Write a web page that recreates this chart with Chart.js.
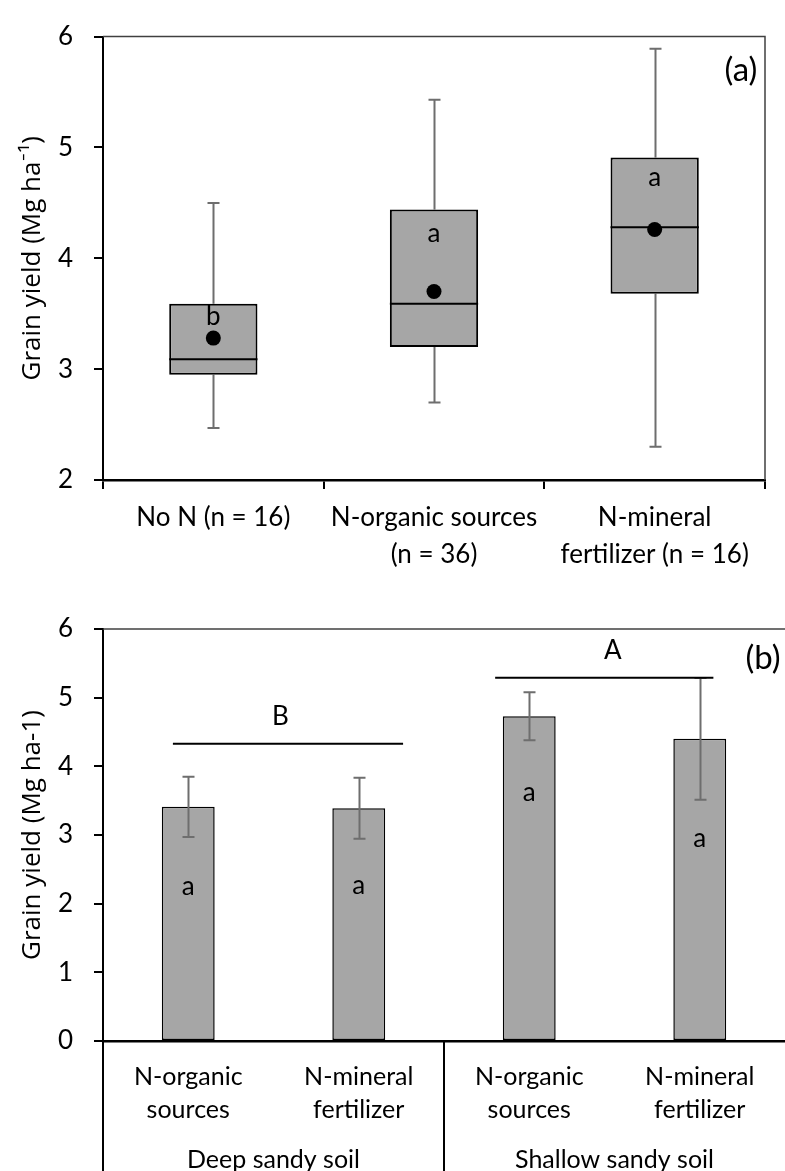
<!DOCTYPE html>
<html>
<head>
<meta charset="utf-8">
<script src="https://cdn.jsdelivr.net/npm/chart.js@4/dist/chart.umd.min.js"></script>
<style>
  html, body { margin: 0; padding: 0; background: #fff; }
  #wrapA { position: absolute; left: 0; top: 0; width: 785px; height: 590px; }
  #wrapB { position: absolute; left: 0; top: 590px; width: 785px; height: 581px; }
</style>
</head>
<body>
<div id="wrapA"><canvas id="boxChart"></canvas></div>
<div id="wrapB"><canvas id="barChart"></canvas></div>
<script>
// ---- Panel (a): grain yield distribution by N source ----
const treatments = [['No N (n = 16)'], ['N-organic sources', '(n = 36)'], ['N-mineral', 'fertilizer (n = 16)']];
const yieldMin = [2.47, 2.70, 2.30];
const yieldQ1 = [2.95, 3.20, 3.68];
const yieldMedian = [3.09, 3.59, 4.28];
const yieldQ3 = [3.59, 4.44, 4.91];
const yieldMax = [4.50, 5.43, 5.89];
const yieldMean = [3.28, 3.70, 4.26];
const boxLetters = ['b', 'a', 'a'];
const boxLetterY = [3.47, 4.22, 4.73];
const ticksA = [2, 3, 4, 5, 6];

// ---- Panel (b): mean grain yield by soil type and N source ----
const sources = [['N-organic', 'sources'], ['N-mineral', 'fertilizer'], ['N-organic', 'sources'], ['N-mineral', 'fertilizer']];
const soils = ['Deep sandy soil', 'Shallow sandy soil'];
const meanYield = [3.41, 3.39, 4.73, 4.40];
const yieldErr = [0.44, 0.445, 0.35, 0.885];
const barLetters = ['a', 'a', 'a', 'a'];
const barLetterY = [2.25, 2.27, 3.62, 2.95];
const soilLetters = ['B', 'A'];
const soilLetterX = [0.54, 2.49];
const soilLineLevel = [4.33, 5.29];
const soilLineFrom = [-0.09, 1.80];
const soilLineTo = [1.26, 3.08];
const ticksB = [0, 1, 2, 3, 4, 5, 6];

const FONT = 'Lato, "Open Sans", sans-serif';
const TITLE_FONT = '"Open Sans", Lato, sans-serif';
const BOX_FILL = '#a6a6a6';
const WHISKER = '#6e6e6e';
Chart.defaults.color = '#000';
Chart.defaults.animation = false;

// whiskers, medians and group letters for the box plot
const boxPlotExtras = {
  id: 'boxPlotExtras',
  beforeDatasetsDraw(chart) {
    const { ctx, scales: { y } } = chart;
    const meta = chart.getDatasetMeta(1);
    ctx.save();
    ctx.strokeStyle = WHISKER;
    ctx.lineWidth = 2;
    meta.data.forEach((bar, i) => {
      const cx = Math.round(bar.x) + 0.5;
      [[yieldQ3[i], yieldMax[i]], [yieldQ1[i], yieldMin[i]]].forEach(([from, to]) => {
        const yf = y.getPixelForValue(from), yt = y.getPixelForValue(to);
        ctx.beginPath();
        ctx.moveTo(cx, yf); ctx.lineTo(cx, yt);
        ctx.moveTo(cx - 6, yt); ctx.lineTo(cx + 6, yt);
        ctx.stroke();
      });
    });
    ctx.restore();
  },
  afterDatasetDraw(chart, args) {
    if (args.meta.type !== 'bar') return;
    const { ctx, scales: { y } } = chart;
    ctx.save();
    ctx.strokeStyle = '#000';
    ctx.lineWidth = 2;
    args.meta.data.forEach((bar, i) => {
      const py = y.getPixelForValue(yieldMedian[i]);
      ctx.beginPath();
      ctx.moveTo(bar.x - bar.width / 2, py);
      ctx.lineTo(bar.x + bar.width / 2, py);
      ctx.stroke();
    });
    ctx.restore();
  },
  afterDraw(chart) {
    const { ctx, chartArea: a, scales: { x, y } } = chart;
    ctx.save();
    // plot frame (top and right)
    ctx.strokeStyle = '#404040';
    ctx.lineWidth = 1.5;
    ctx.beginPath();
    ctx.moveTo(a.left, a.top); ctx.lineTo(a.right, a.top); ctx.lineTo(a.right, a.bottom);
    ctx.stroke();
    ctx.fillStyle = '#000';
    ctx.textAlign = 'center';
    ctx.textBaseline = 'middle';
    ctx.font = '26px ' + FONT;
    boxLetters.forEach((t, i) => ctx.fillText(t, x.getPixelForValue(i), y.getPixelForValue(boxLetterY[i])));
    ctx.font = '33px ' + FONT;
    ctx.fillText('(a)', a.right - 24, a.top + 34);
    ctx.restore();
  }
};

new Chart(document.getElementById('boxChart'), {
  data: {
    labels: treatments,
    datasets: [
      { type: 'line', label: 'Mean', data: yieldMean, showLine: false, pointRadius: 7.5, pointHoverRadius: 7.5,
        pointBackgroundColor: '#000', pointBorderWidth: 0, order: 0 },
      { type: 'bar', label: 'Interquartile range', data: yieldQ1.map((q, i) => [q, yieldQ3[i]]),
        backgroundColor: BOX_FILL, borderColor: '#000', borderWidth: 2, borderSkipped: false,
        barPercentage: 0.4, categoryPercentage: 1, order: 1 }
    ]
  },
  options: {
    responsive: true,
    maintainAspectRatio: false,
    layout: { padding: { top: 25, right: 20, left: 0, bottom: 0 } },
    plugins: { legend: { display: false }, tooltip: { enabled: false } },
    scales: {
      x: {
        offset: true,
        grid: { offset: true, drawOnChartArea: false, tickLength: 9, color: '#000', lineWidth: 2 },
        border: { color: '#000', width: 2.5 },
        ticks: { font: { family: FONT, size: 26, lineHeight: 37 / 26 }, padding: 10.5, maxRotation: 0, autoSkip: false, color: '#000' },
        afterFit(s) { s.height = 110; }
      },
      y: {
        min: ticksA[0], max: ticksA[ticksA.length - 1],
        afterBuildTicks(s) { s.ticks = ticksA.map(v => ({ value: v })); },
        grid: { drawOnChartArea: false, tickLength: 9, color: '#000', lineWidth: 2 },
        border: { color: '#000', width: 2 },
        ticks: { font: { family: FONT, size: 26 }, padding: 21, color: '#000' },
        title: { display: true, text: 'Grain yield (Mg ha⁻¹)', font: { family: TITLE_FONT, size: 26 }, padding: { top: 16.5, bottom: 0 }, color: '#000' },
        afterFit(s) { s.width = 103; }
      }
    }
  },
  plugins: [boxPlotExtras]
});

// error bars, letters, soil brackets and group separators for the bar chart
const barExtras = {
  id: 'barExtras',
  afterDatasetsDraw(chart) {
    const { ctx, chartArea: a, scales: { x, y } } = chart;
    const meta = chart.getDatasetMeta(0);
    ctx.save();
    ctx.strokeStyle = WHISKER;
    ctx.lineWidth = 2;
    meta.data.forEach((bar, i) => {
      const cx = Math.round(bar.x) + 0.5;
      const yt = y.getPixelForValue(meanYield[i] + yieldErr[i]);
      const yb = y.getPixelForValue(meanYield[i] - yieldErr[i]);
      ctx.beginPath();
      ctx.moveTo(cx, yt); ctx.lineTo(cx, yb);
      ctx.moveTo(cx - 6, yt); ctx.lineTo(cx + 6, yt);
      ctx.moveTo(cx - 6, yb); ctx.lineTo(cx + 6, yb);
      ctx.stroke();
    });
    ctx.fillStyle = '#000';
    ctx.textAlign = 'center';
    ctx.textBaseline = 'middle';
    ctx.font = '26px ' + FONT;
    barLetters.forEach((t, i) => ctx.fillText(t, x.getPixelForValue(i), y.getPixelForValue(barLetterY[i])));
    ctx.strokeStyle = '#000';
    ctx.lineWidth = 2;
    soilLetters.forEach((t, i) => {
      const py = y.getPixelForValue(soilLineLevel[i]);
      ctx.beginPath();
      ctx.moveTo(x.getPixelForValue(soilLineFrom[i]), py);
      ctx.lineTo(x.getPixelForValue(soilLineTo[i]), py);
      ctx.stroke();
      ctx.fillText(t, x.getPixelForValue(soilLetterX[i]), py - 27);
    });
    ctx.font = '33px ' + FONT;
    ctx.fillText('(b)', a.right - 22, a.top + 29);
    ctx.restore();
  },
  afterDraw(chart) {
    const { ctx, chartArea: a, scales: { x } } = chart;
    ctx.save();
    ctx.strokeStyle = '#404040';
    ctx.lineWidth = 1.5;
    ctx.beginPath();
    ctx.moveTo(a.left, a.top); ctx.lineTo(a.right, a.top);
    ctx.stroke();
    // separators between soil groups on the category axis
    ctx.strokeStyle = '#000';
    ctx.lineWidth = 2;
    for (let g = 0; g < soils.length; g++) {
      const px = Math.round(x.getPixelForValue(g * 2 - 0.5));
      ctx.beginPath();
      ctx.moveTo(px, a.bottom); ctx.lineTo(px, chart.height);
      ctx.stroke();
    }
    ctx.restore();
  }
};

new Chart(document.getElementById('barChart'), {
  type: 'bar',
  data: {
    labels: sources,
    datasets: [
      { label: 'Grain yield', data: meanYield, backgroundColor: BOX_FILL, borderColor: '#000', borderWidth: 1.5,
        borderSkipped: false, barPercentage: 0.31, categoryPercentage: 1 }
    ]
  },
  options: {
    responsive: true,
    maintainAspectRatio: false,
    layout: { padding: { top: 39, right: 0, left: 0, bottom: 0 } },
    plugins: { legend: { display: false }, tooltip: { enabled: false } },
    scales: {
      x: {
        offset: true,
        grid: { display: false },
        border: { color: '#000', width: 2.5 },
        ticks: { font: { family: FONT, size: 25, lineHeight: 33 / 25 }, padding: 11.5, maxRotation: 0, autoSkip: false, color: '#000' },
        afterFit(s) { s.height = 100; }
      },
      x2: {
        type: 'category',
        labels: soils,
        position: 'bottom',
        weight: 1,
        offset: true,
        grid: { display: false },
        border: { display: false },
        ticks: { font: { family: FONT, size: 25, lineHeight: 33 / 25 }, padding: -5.5, maxRotation: 0, autoSkip: false, color: '#000' },
        afterFit(s) { s.height = 30; }
      },
      y: {
        min: ticksB[0], max: ticksB[ticksB.length - 1],
        afterBuildTicks(s) { s.ticks = ticksB.map(v => ({ value: v })); },
        grid: { drawOnChartArea: false, tickLength: 9, color: '#000', lineWidth: 2 },
        border: { color: '#000', width: 2 },
        ticks: { font: { family: FONT, size: 26 }, padding: 21, color: '#000' },
        title: { display: true, text: 'Grain yield (Mg ha-1)', font: { family: TITLE_FONT, size: 26 }, padding: { top: 16.5, bottom: 0 }, color: '#000' },
        afterFit(s) { s.width = 103; }
      }
    }
  },
  plugins: [barExtras]
});
</script>
</body>
</html>
